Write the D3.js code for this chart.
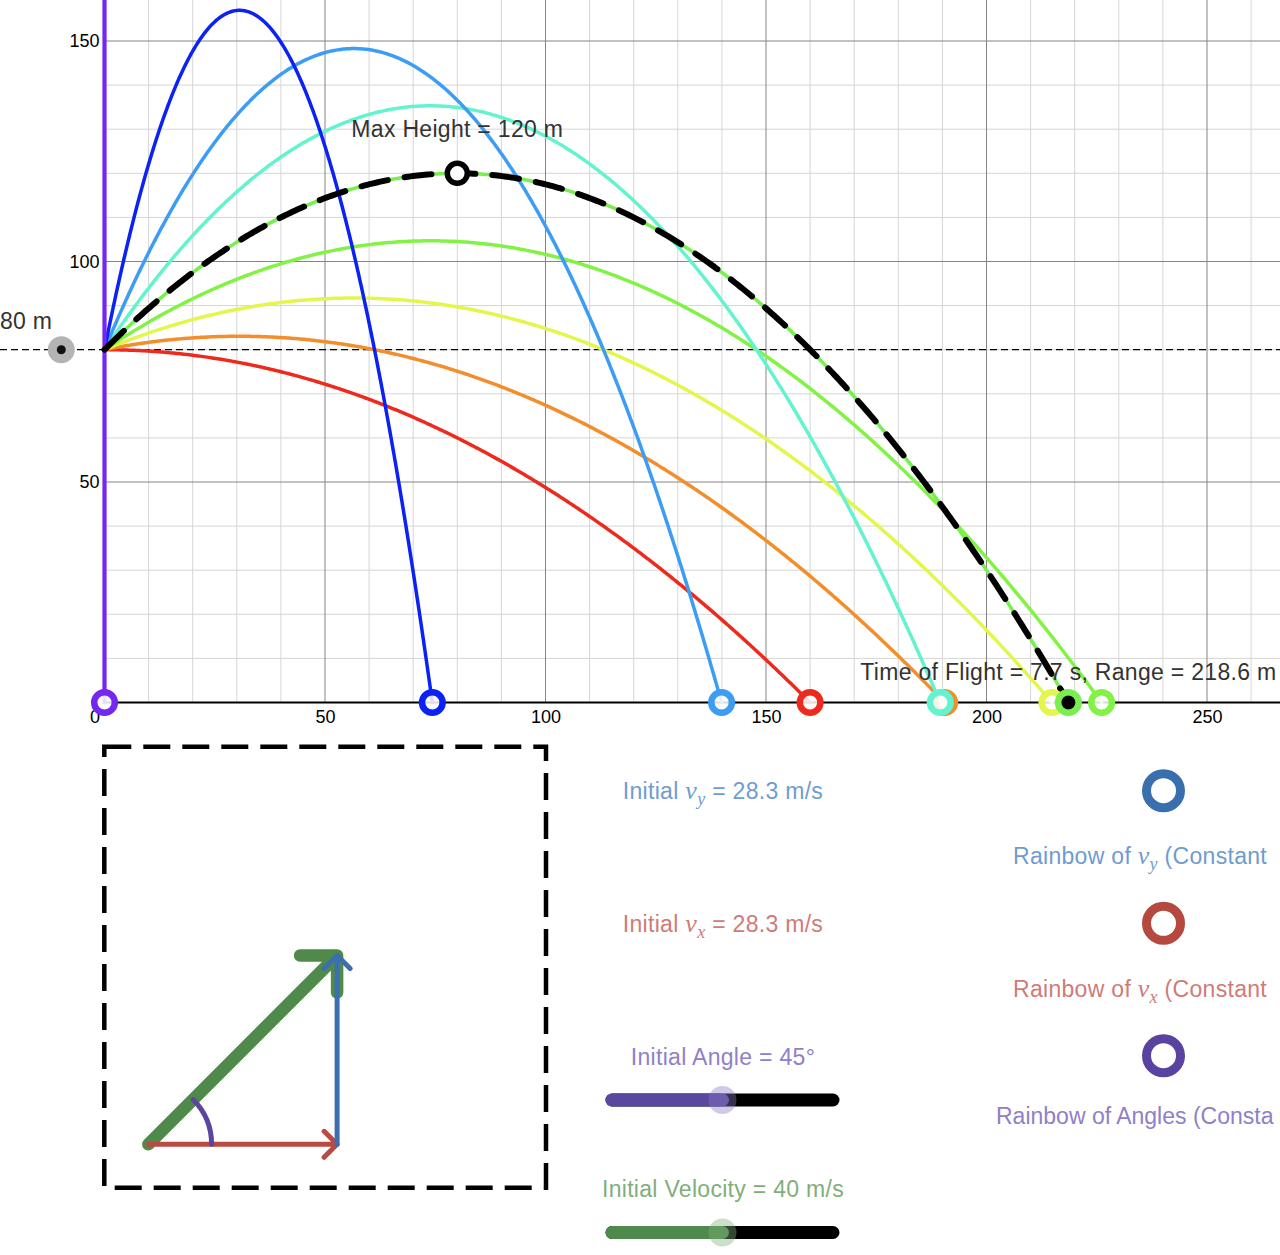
<!DOCTYPE html>
<html><head><meta charset="utf-8">
<script src="https://cdn.jsdelivr.net/npm/d3@7"></script>
<style>
body{margin:0;background:#fff;overflow:hidden}
svg{display:block}
text{font-family:"Liberation Sans",Arial,Helvetica,sans-serif}
</style>
</head><body>
<svg id="chart" width="1280" height="1255"></svg>
<script>
// ---------- data ----------
const angles = [0, 11.25, 22.5, 33.75, 45, 56.25, 67.5, 78.75, 90];   // degrees, "rainbow of angles"
const curveColors = ["#ec2b1e", "#f28e2b", "#e4f64c", "#82f345", "#78ee50", "#64f3cf", "#3d9df4", "#0c22f4", "#7427ef"];
const speed = 40;          // m/s
const launchHeight = 80;   // m
const gravity = 10;        // m/s^2
const selectedAngle = 45;  // deg
const xTicks = [0, 50, 100, 150, 200, 250];
const yTicks = [50, 100, 150];
const sliderAngleDomain = [0, 90];
const sliderSpeedDomain = [0, 80];
const toggleLabels = ["Rainbow of ", "Rainbow of ", "Rainbow of Angles (Consta"];

// ---------- setup ----------
const svg = d3.select("#chart");
const W = 1280;
const FS = 23, LS = 0.3;
const x = d3.scaleLinear().domain([0, 250]).range([104.5, 104.5 + 250 * 4.41]);
const y = d3.scaleLinear().domain([0, 150]).range([702.5, 702.5 - 150 * 4.41]);
const xMax = x.invert(W), yMax = y.invert(0);

function flight(aDeg) {
  const r = aDeg * Math.PI / 180;
  const vx = speed * Math.cos(r), vy = speed * Math.sin(r);
  const T = (vy + Math.sqrt(vy * vy + 2 * gravity * launchHeight)) / gravity;
  return {vx, vy, T, range: vx * T, apexX: vx * vy / gravity, apexY: launchHeight + vy * vy / (2 * gravity)};
}
function path(aDeg) {
  const f = flight(aDeg);
  return d3.range(0, 401).map(i => {
    const t = f.T * i / 400;
    return [f.vx * t, launchHeight + f.vy * t - gravity * t * t / 2];
  });
}

// ---------- grid ----------
const grid = svg.append("g");
const minorX = d3.range(10, Math.ceil(xMax), 10).filter(v => v % 50 !== 0);
const minorY = d3.range(10, Math.ceil(yMax), 10).filter(v => v % 50 !== 0);
grid.selectAll(".mx").data(minorX).join("line")
  .attr("x1", d => x(d)).attr("x2", d => x(d)).attr("y1", 0).attr("y2", y(0))
  .attr("stroke", "#d6d6d6").attr("stroke-width", 1);
grid.selectAll(".my").data(minorY).join("line")
  .attr("x1", x(0)).attr("x2", W).attr("y1", d => y(d)).attr("y2", d => y(d))
  .attr("stroke", "#d6d6d6").attr("stroke-width", 1);
grid.selectAll(".MX").data(xTicks.filter(v => v > 0)).join("line")
  .attr("x1", d => x(d)).attr("x2", d => x(d)).attr("y1", 0).attr("y2", y(0))
  .attr("stroke", "#858585").attr("stroke-width", 1);
grid.selectAll(".MY").data(yTicks).join("line")
  .attr("x1", x(0)).attr("x2", W).attr("y1", d => y(d)).attr("y2", d => y(d))
  .attr("stroke", "#858585").attr("stroke-width", 1);

// ground axis
svg.append("line").attr("x1", x(0)).attr("x2", W).attr("y1", y(0)).attr("y2", y(0))
  .attr("stroke", "#000").attr("stroke-width", 2);

// axis labels via d3 axes
const xAxis = svg.append("g").attr("transform", `translate(0,${y(0)})`)
  .call(d3.axisBottom(x).tickValues(xTicks).tickSize(0).tickPadding(8).tickFormat(d3.format("d")));
xAxis.select(".domain").remove();
xAxis.selectAll("text").attr("font-size", 18).attr("fill", "#000")
  .attr("font-family", '"Liberation Sans",Arial,sans-serif')
  .attr("dx", d => d === 0 ? -10 : 0);
const yAxis = svg.append("g").attr("transform", `translate(${x(0) - 5},0)`)
  .call(d3.axisLeft(y).tickValues(yTicks).tickSize(0).tickPadding(0).tickFormat(d3.format("d")));
yAxis.select(".domain").remove();
yAxis.selectAll("text").attr("font-size", 18).attr("fill", "#000")
  .attr("font-family", '"Liberation Sans",Arial,sans-serif');

// launch height dashed line
svg.append("line").attr("x1", 0).attr("x2", W).attr("y1", y(launchHeight)).attr("y2", y(launchHeight))
  .attr("stroke", "#000").attr("stroke-width", 1.2).attr("stroke-dasharray", "7 4");
svg.append("circle").attr("cx", x(-9.8)).attr("cy", y(launchHeight)).attr("r", 13.5).attr("fill", "#b4b4b4");
svg.append("circle").attr("cx", x(-9.8)).attr("cy", y(launchHeight)).attr("r", 4.5).attr("fill", "#111");
svg.append("text").attr("x", 0).attr("y", y(launchHeight) - 21).attr("font-size", FS).attr("fill", "#333")
  .attr("letter-spacing", LS).text(`${launchHeight} m`);

// ---------- trajectories ----------
const line = d3.line().x(d => x(d[0])).y(d => y(d[1]));
const curves = svg.append("g").attr("fill", "none").attr("stroke-linecap", "round");
angles.forEach((a, i) => {
  curves.append("path").attr("d", line(path(a))).attr("stroke", curveColors[i])
    .attr("stroke-width", a === 90 ? 4.2 : 3.5);
});
// selected trajectory dashed
svg.append("path").attr("d", line(path(selectedAngle))).attr("fill", "none")
  .attr("stroke", "#000").attr("stroke-width", 6).attr("stroke-linecap", "round")
  .attr("stroke-dasharray", "27 17");

// landing circles
angles.forEach((a, i) => {
  const f = flight(a);
  svg.append("circle").attr("cx", x(f.range)).attr("cy", y(0)).attr("r", 10.3)
    .attr("fill", "#fff").attr("fill-opacity", 0.85)
    .attr("stroke", curveColors[i]).attr("stroke-width", 6.5);
});
const sel = flight(selectedAngle);
svg.append("circle").attr("cx", x(sel.range)).attr("cy", y(0)).attr("r", 7).attr("fill", "#000");
// apex marker
svg.append("circle").attr("cx", x(sel.apexX)).attr("cy", y(sel.apexY)).attr("r", 10)
  .attr("fill", "#fff").attr("stroke", "#000").attr("stroke-width", 5.5);

svg.append("text").attr("x", x(sel.apexX)).attr("y", y(sel.apexY) - 36).attr("text-anchor", "middle")
  .attr("font-size", FS).attr("fill", "#333").attr("letter-spacing", LS)
  .text(`Max Height = ${sel.apexY.toFixed(0)} m`);
svg.append("text").attr("x", x(sel.range)).attr("y", y(0) - 23).attr("text-anchor", "middle")
  .attr("font-size", FS).attr("fill", "#333").attr("letter-spacing", LS)
  .text(`Time of Flight = ${sel.T.toFixed(1)} s, Range = ${sel.range.toFixed(1)} m`);

// ---------- vector diagram ----------
svg.append("rect").attr("x", 104.3).attr("y", 746.7).attr("width", 441.7).attr("height", 441)
  .attr("fill", "none").attr("stroke", "#000").attr("stroke-width", 4.5).attr("stroke-dasharray", "27 12");
const vs = d3.scaleLinear().domain([0, speed]).range([0, 267]);
const ox = 148.3, oy = 1144.3;
const tx = ox + vs(sel.vx), ty = oy - vs(sel.vy);
const vg = svg.append("g").attr("fill", "none").attr("stroke-linecap", "round").attr("stroke-linejoin", "round");
// green resultant
vg.append("path").attr("d", `M${ox},${oy}L${tx},${ty}M${tx - 37},${ty}L${tx},${ty}L${tx},${ty + 37}`)
  .attr("stroke", "#4f8a4b").attr("stroke-width", 12.5);
// red vx
vg.append("path").attr("d", `M${ox},${oy}L${tx},${oy}M${tx - 13},${oy - 13}L${tx},${oy}L${tx - 13},${oy + 13}`)
  .attr("stroke", "#b94b45").attr("stroke-width", 5);
// blue vy
vg.append("path").attr("d", `M${tx},${oy}L${tx},${ty}M${tx - 13},${ty + 13}L${tx},${ty}L${tx + 13},${ty + 13}`)
  .attr("stroke", "#3b6fb0").attr("stroke-width", 5);
// purple angle arc
const ar = 63.3, sr = selectedAngle * Math.PI / 180;
vg.append("path").attr("d", `M${ox + ar},${oy}A${ar},${ar} 0 0 0 ${ox + ar * Math.cos(sr)},${oy - ar * Math.sin(sr)}`)
  .attr("stroke", "#5a46a2").attr("stroke-width", 5);

// ---------- labels with math ----------
function mathLabel(xp, yp, color, pre, sub, post, anchor) {
  const t = svg.append("text").attr("x", xp).attr("y", yp).attr("font-size", FS).attr("fill", color)
    .attr("text-anchor", anchor || "middle").attr("letter-spacing", LS);
  t.append("tspan").text(pre);
  t.append("tspan").attr("font-family", '"Liberation Serif","Times New Roman",serif').attr("font-style", "italic")
    .attr("font-size", 26).text("v");
  t.append("tspan").attr("font-family", '"Liberation Serif","Times New Roman",serif').attr("font-style", "italic")
    .attr("font-size", 18).attr("dy", 6).text(sub);
  t.append("tspan").attr("dy", -6).text(post);
  return t;
}
mathLabel(723, 799, "#6e9cd0", "Initial\u00a0", "y", `\u00a0= ${sel.vy.toFixed(1)} m/s`);
mathLabel(723, 932, "#cf7b77", "Initial\u00a0", "x", `\u00a0= ${sel.vx.toFixed(1)} m/s`);

svg.append("text").attr("x", 723).attr("y", 1065).attr("text-anchor", "middle").attr("font-size", FS)
  .attr("fill", "#8f80c8").attr("letter-spacing", LS).text(`Initial Angle = ${selectedAngle}°`);
svg.append("text").attr("x", 723).attr("y", 1197).attr("text-anchor", "middle").attr("font-size", FS)
  .attr("fill", "#7fae7c").attr("letter-spacing", LS).text(`Initial Velocity = ${speed} m/s`);

// sliders
function slider(yp, domain, value, color, knob) {
  const s = d3.scaleLinear().domain(domain).range([612, 833]);
  const g = svg.append("g").attr("stroke-linecap", "round");
  g.append("line").attr("x1", s(domain[0])).attr("x2", s(domain[1])).attr("y1", yp).attr("y2", yp)
    .attr("stroke", "#000").attr("stroke-width", 13);
  g.append("line").attr("x1", s(domain[0])).attr("x2", s(value)).attr("y1", yp).attr("y2", yp)
    .attr("stroke", color).attr("stroke-width", 13);
  g.append("circle").attr("cx", s(value)).attr("cy", yp).attr("r", 14).attr("fill", knob).attr("fill-opacity", 0.4);
}
slider(1100, sliderAngleDomain, selectedAngle, "#5a47a0", "#8a7ac0");
slider(1232.5, sliderSpeedDomain, speed, "#4f8a4c", "#7fb07c");

// checkbox-style circles and labels
const toggles = [
  {cy: 790.7, color: "#3a6fae", text: "#6e9cd0", ty: 864, tx: 1013, sub: "y", post: " (Constant"},
  {cy: 923.3, color: "#b5483f", text: "#cf7b77", ty: 997, tx: 1013, sub: "x", post: " (Constant"},
  {cy: 1055.7, color: "#5a43a0", text: "#8f80c8", ty: 1124, tx: 996, sub: null, post: ""}
];
toggles.forEach((d, i) => {
  svg.append("circle").attr("cx", 1163.5).attr("cy", d.cy).attr("r", 17).attr("fill", "#fff")
    .attr("stroke", d.color).attr("stroke-width", 9);
  if (d.sub) mathLabel(d.tx, d.ty, d.text, toggleLabels[i].replace(/ $/, "\u00a0"), d.sub, d.post, "start");
  else svg.append("text").attr("x", d.tx).attr("y", d.ty).attr("font-size", FS).attr("fill", d.text)
    .text(toggleLabels[i]);
});
</script>
</body></html>
